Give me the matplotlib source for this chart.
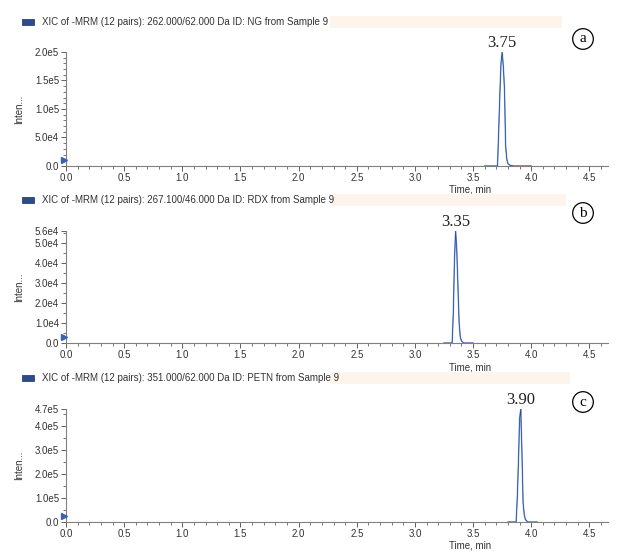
import matplotlib
matplotlib.use("Agg")
from matplotlib import pyplot as plt
from matplotlib.patches import Rectangle
from matplotlib.ticker import MultipleLocator, FixedLocator
import numpy as np

# donnees (temps en min, intensite en cps)
t_ng = [3.60, 3.71, 3.72, 3.73, 3.74, 3.75, 3.76, 3.77, 3.78, 3.79, 3.80, 3.82, 3.85, 4.00]
i_ng = [0, 0, 0.6e5, 1.25e5, 1.8e5, 2.0e5, 1.75e5, 1.35e5, 0.35e5, 0.12e5, 0.04e5, 0.01e5, 0, 0]

t_rdx = [3.25, 3.32, 3.33, 3.34, 3.35, 3.36, 3.37, 3.38, 3.39, 3.40, 3.42, 3.50]
i_rdx = [0, 0, 1.5e4, 4.2e4, 5.6e4, 4.6e4, 2.8e4, 1.0e4, 0.3e4, 0.1e4, 0, 0]

t_petn = [3.80, 3.87, 3.88, 3.89, 3.90, 3.91, 3.92, 3.93, 3.94, 3.95, 3.97, 4.05]
i_petn = [0, 0, 1.0e5, 2.5e5, 4.3e5, 4.7e5, 2.9e5, 0.8e5, 0.3e5, 0.1e5, 0, 0]

titres = ["XIC of -MRM (12 pairs): 262.000/62.000 Da ID: NG from Sample 9",
          "XIC of -MRM (12 pairs): 267.100/46.000 Da ID: RDX from Sample 9",
          "XIC of -MRM (12 pairs): 351.000/62.000 Da ID: PETN from Sample 9"]
pics = ["3.75", "3.35", "3.90"]
lettres = ["a", "b", "c"]
yticks = [[0, 5e4, 1e5, 1.5e5, 2e5], [0, 1e4, 2e4, 3e4, 4e4, 5e4, 5.6e4], [0, 1e5, 2e5, 3e5, 4e5, 4.7e5]]
ytlabels = [["0.0", "5.0e4", "1.0e5", "1.5e5", "2.0e5"],
            ["0.0", "1.0e4", "2.0e4", "3.0e4", "4.0e4", "5.0e4", "5.6e4"],
            ["0.0", "1.0e5", "2.0e5", "3.0e5", "4.0e5", "4.7e5"]]
yminor = [1e4, 5e3, 5e4]
ymax = [2.0e5, 5.6e4, 4.7e5]
xticks = [0.0, 0.5, 1.0, 1.5, 2.0, 2.5, 3.0, 3.5, 4.0, 4.5]

W, H = 621, 556
fig = plt.figure(figsize=(W/100, H/100), dpi=100)
plt.rcParams['font.family'] = ['Liberation Sans', 'DejaVu Sans']

# positions en pixels : (haut axe, bas axe, ligne titre, cercle)
geo = [(52, 166, 22, 39), (231, 343, 200, 213), (409, 522, 378, 402)]
donnees = [(t_ng, i_ng), (t_rdx, i_rdx), (t_petn, i_petn)]
bar_end = [562, 566, 570]

x0, x1 = 66, 608
for k in range(3):
    top, bot, ytit, ycirc = geo[k]
    ax = fig.add_axes([x0/W, 1-bot/H, (x1-x0)/W, (bot-top)/H])
    t, y = donnees[k]
    ax.plot(t, y, color='#8aa8dc', lw=1.1, zorder=2)
    ax.plot(t, y, color='#1f45a0', lw=0.5, zorder=3)
    ax.set_xlim(0, 4.66)
    ax.set_ylim(0, ymax[k])
    for s in ['top', 'right']:
        ax.spines[s].set_visible(False)
    for s in ['left', 'bottom']:
        ax.spines[s].set_color('#808080')
        ax.spines[s].set_linewidth(0.8)
        ax.spines[s].set_zorder(4)
    ax.set_xticks(xticks)
    ax.set_xticklabels(["%.1f" % v for v in xticks])
    ax.xaxis.set_minor_locator(MultipleLocator(0.1))
    ax.yaxis.set_major_locator(FixedLocator(yticks[k]))
    ax.set_yticklabels(ytlabels[k])
    ax.yaxis.set_minor_locator(MultipleLocator(yminor[k]))
    ax.tick_params(which='major', length=3.5, width=0.7, color='#606060', labelsize=7,
                   labelcolor='#333333', pad=1.5)
    ax.tick_params(which='minor', length=2, width=0.6, color='#606060')
    ax.set_xlabel("Time, min", fontsize=7, color='#333333')
    ax.xaxis.set_label_coords((470-x0)/(x1-x0), -19/(bot-top))
    ax.set_ylabel("Inten...", fontsize=7, color='#333333')
    ax.yaxis.set_label_coords(-(x0-24)/(x1-x0), 0.5)
    # petit marqueur bleu a l'origine
    ax.plot([-0.015], [0.05*ymax[k]], marker='>', ms=4, color='#3a63b0', clip_on=False, zorder=5)
    # etiquette du pic
    ip = int(np.argmax(y))
    ax.annotate(pics[k], (t[ip], y[ip]), xytext=(0, 1), textcoords='offset points',
                ha='center', va='bottom', fontsize=12, family='Liberation Serif', color='#222222')
    # barre de titre
    fig.patches.append(Rectangle((330/W, 1-(ytit+6)/H), (bar_end[k]-330)/W, 12/H,
                                 transform=fig.transFigure, facecolor='#fdf5ec', edgecolor='none'))
    fig.patches.append(Rectangle((22/W, 1-(ytit+3)/H), 12/W, 6/H,
                                 transform=fig.transFigure, facecolor='#2b4c8c', edgecolor='#1a2f60', lw=0.5))
    fig.text(42/W, 1-ytit/H, titres[k], fontsize=7, color='#333333', va='center', ha='left')
    fig.text(583/W, 1-ycirc/H, lettres[k], fontsize=11, family='Liberation Serif', ha='center', va='center',
             bbox=dict(boxstyle='circle,pad=0.25', facecolor='white', edgecolor='black', lw=0.9))

fig.savefig("out.png", dpi=100)
